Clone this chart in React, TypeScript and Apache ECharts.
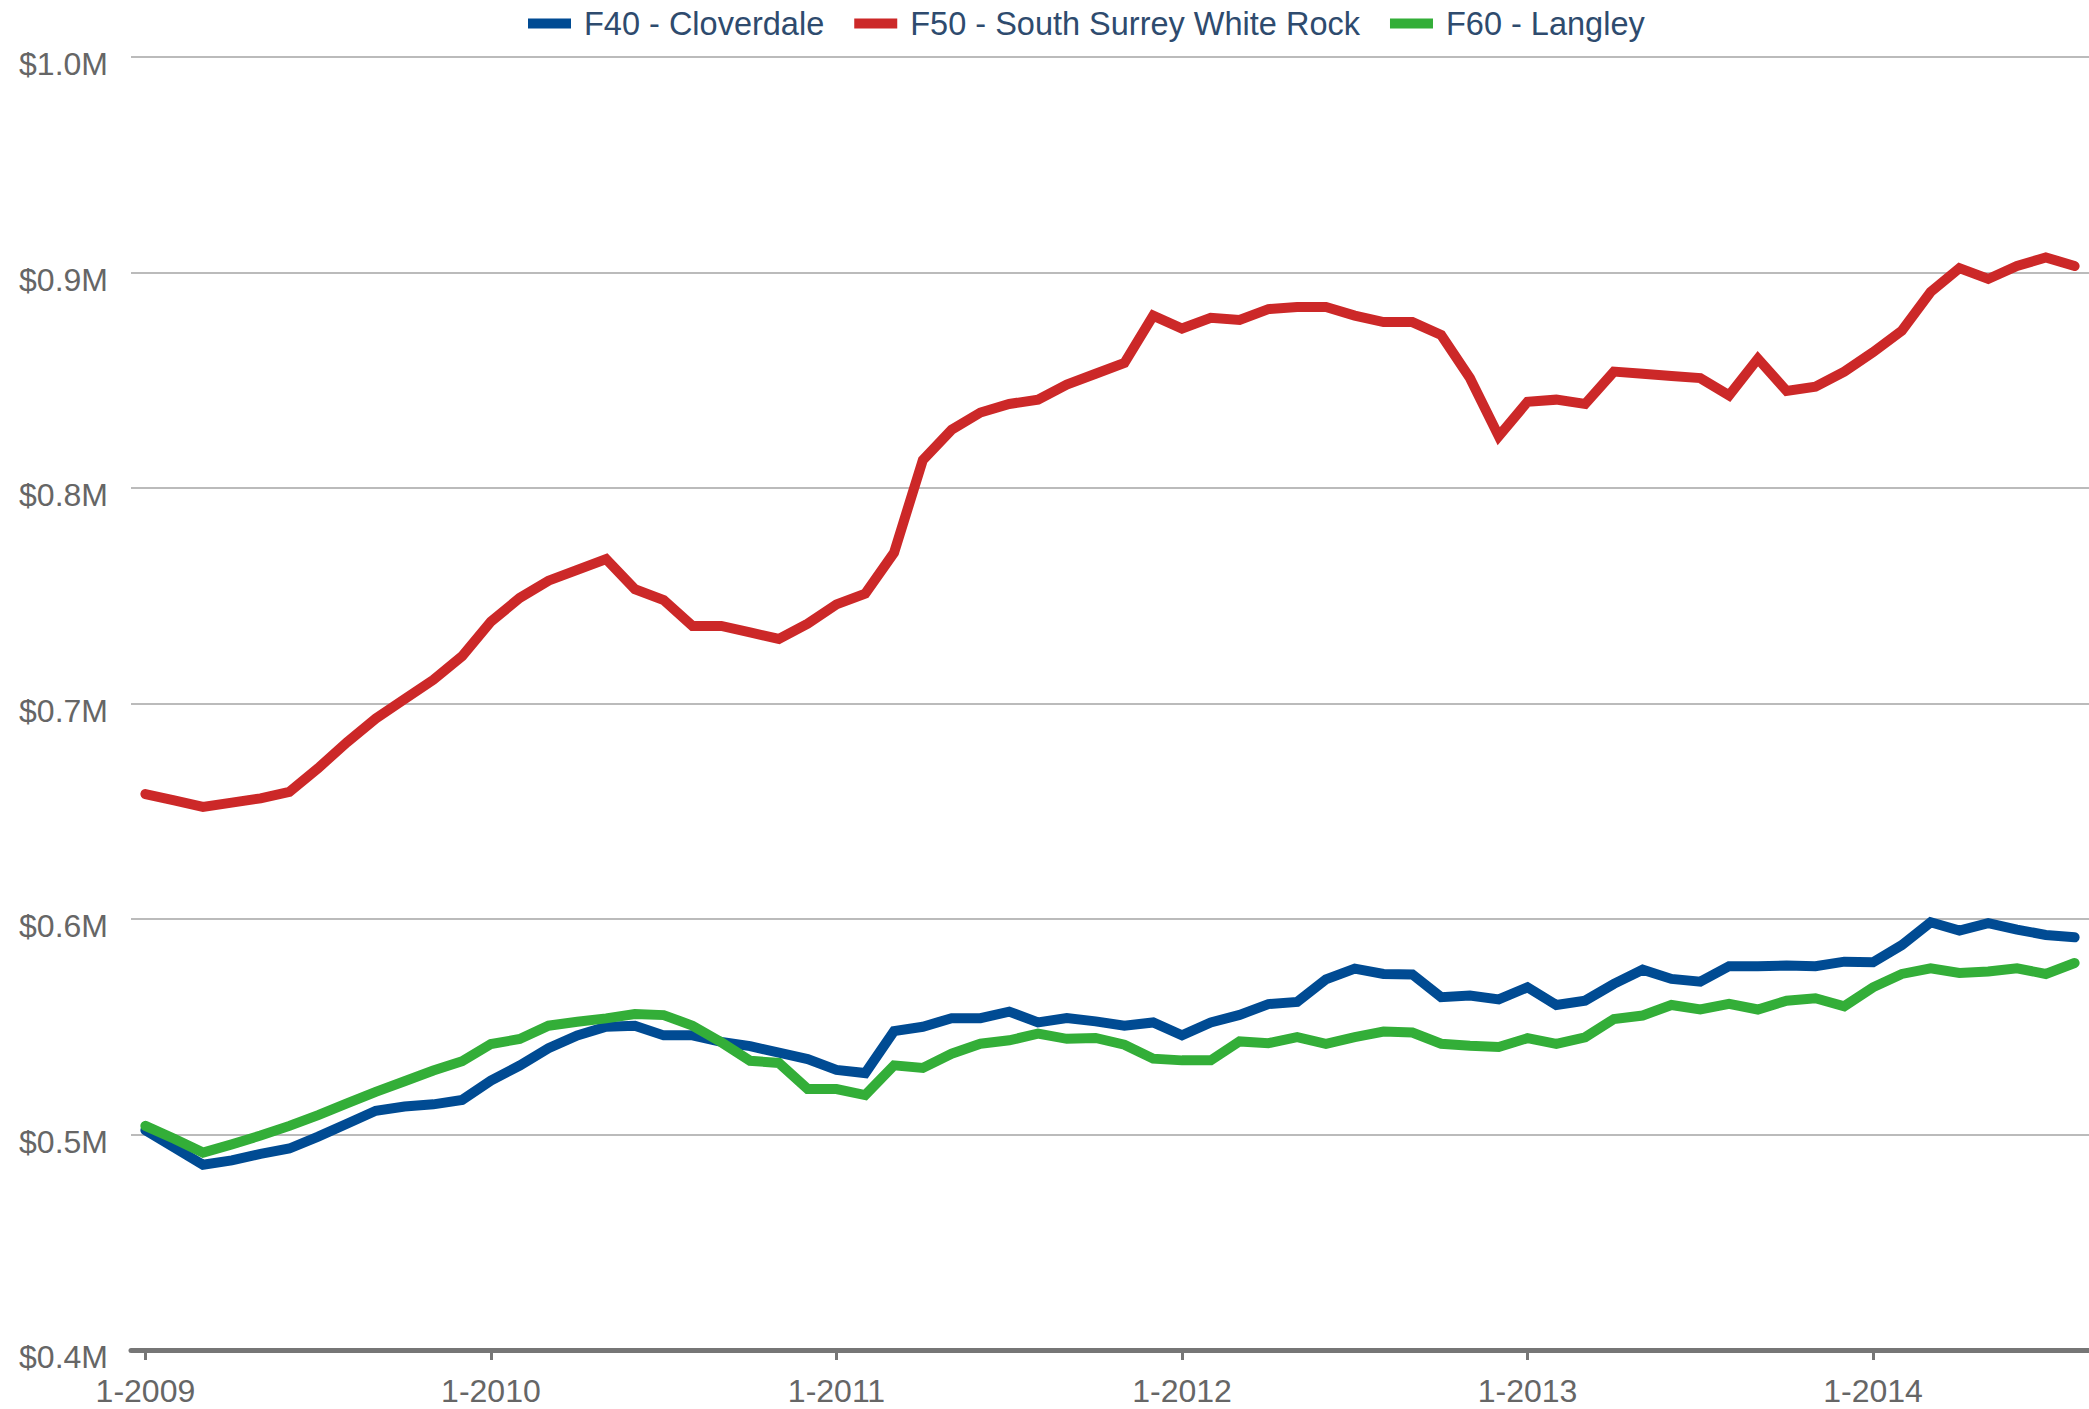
import React, { useEffect, useRef } from "react";
import * as echarts from "echarts";

const startYear = 2009;
const monthCount = 68;
const months: string[] = [];
for (let i = 0; i < monthCount; i++) {
  const m = (i % 12) + 1;
  const y = startYear + Math.floor(i / 12);
  months.push(`${m}-${y}`);
}

const seriesNames = ["F40 - Cloverdale", "F50 - South Surrey White Rock", "F60 - Langley"];

// values in $ millions
const cloverdale = [
  0.502, 0.494, 0.486, 0.488, 0.491, 0.4935, 0.499, 0.505, 0.511, 0.513, 0.514, 0.516,
  0.525, 0.532, 0.540, 0.546, 0.550, 0.5505, 0.546, 0.546, 0.543, 0.541, 0.538, 0.535,
  0.530, 0.5285, 0.548, 0.550, 0.554, 0.554, 0.557, 0.552, 0.554, 0.5525, 0.5505, 0.552,
  0.546, 0.552, 0.5555, 0.5605, 0.5615, 0.572, 0.577, 0.5745, 0.5743, 0.5637, 0.5645, 0.5627,
  0.5683, 0.5601, 0.5621, 0.5699, 0.5765, 0.5722, 0.5709, 0.5781, 0.5781, 0.5784, 0.5781, 0.5802,
  0.5799, 0.5879, 0.5985, 0.5946, 0.5981, 0.5951, 0.5926, 0.5915,
];

const southSurrey = [
  0.658, 0.655, 0.652, 0.654, 0.656, 0.659, 0.670, 0.682, 0.693, 0.702, 0.711, 0.722,
  0.738, 0.749, 0.757, 0.762, 0.767, 0.753, 0.748, 0.736, 0.736, 0.733, 0.730, 0.737,
  0.746, 0.751, 0.770, 0.813, 0.827, 0.835, 0.839, 0.841, 0.848, 0.853, 0.858, 0.880,
  0.874, 0.879, 0.878, 0.883, 0.884, 0.884, 0.880, 0.877, 0.877, 0.871, 0.851, 0.824,
  0.840, 0.841, 0.839, 0.854, 0.853, 0.852, 0.851, 0.843, 0.860, 0.845, 0.847, 0.854,
  0.863, 0.873, 0.891, 0.902, 0.897, 0.903, 0.907, 0.903,
];

const langley = [
  0.504, 0.498, 0.4916, 0.4954, 0.4995, 0.504, 0.509, 0.5144, 0.5198, 0.5247, 0.5297, 0.534,
  0.542, 0.5443, 0.5505, 0.5523, 0.5539, 0.5559, 0.5554, 0.5505, 0.5428, 0.5342, 0.5332, 0.5211,
  0.5211, 0.5183, 0.5321, 0.5309, 0.5375, 0.5421, 0.5437, 0.5468, 0.5444, 0.5448, 0.5417, 0.5352,
  0.5344, 0.5344, 0.5432, 0.5424, 0.5452, 0.5421, 0.5452, 0.5478, 0.5473, 0.5421, 0.5412, 0.5406,
  0.5447, 0.542, 0.5451, 0.5536, 0.5552, 0.5601, 0.558, 0.5606, 0.558, 0.5621, 0.5632, 0.5595,
  0.5683, 0.5745, 0.5771, 0.575, 0.5756, 0.5771, 0.5745, 0.5796,
];

const yMin = 0.4;
const yMax = 1.0;
const yStep = 0.1;

const colors = ["#004B93", "#CC2828", "#33AE38"];
const FONT = "'Liberation Sans', Arial, Helvetica, sans-serif";

export default function App() {
  const ref = useRef<HTMLDivElement>(null);
  useEffect(() => {
    if (!ref.current) return;
    const chart = echarts.init(ref.current, null, { renderer: "svg" });
    const mk = (name: string, data: number[], color: string) => ({
      name,
      type: "line",
      data,
      symbol: "none",
      showSymbol: false,
      color,
      lineStyle: { width: 10, color, cap: "round", join: "miter" },
    });
    chart.setOption({
      animation: false,
      backgroundColor: "#ffffff",
      legend: {
        data: seriesNames,
        left: 528,
        top: 7,
        padding: 0,
        icon: "rect",
        itemWidth: 43,
        itemHeight: 10,
        itemGap: 30,
        textStyle: {
          fontFamily: FONT,
          fontSize: 32.5,
          color: "#2E4B6E",
          padding: [0, 0, 0, 8],
        },
      },
      grid: { left: 131, right: 0, top: 57, bottom: 59, containLabel: false },
      xAxis: {
        type: "category",
        data: months,
        boundaryGap: true,
        axisLine: { show: true, lineStyle: { color: "#767676", width: 5 } },
        axisTick: {
          show: true,
          interval: 11,
          alignWithLabel: true,
          length: 10,
          lineStyle: { color: "#767676", width: 3 },
        },
        axisLabel: {
          interval: 11,
          margin: 31,
          fontFamily: FONT,
          fontSize: 32,
          lineHeight: 20,
          color: "#666666",
        },
        splitLine: { show: false },
      },
      yAxis: {
        type: "value",
        min: yMin,
        max: yMax,
        interval: yStep,
        axisLine: { show: false },
        axisTick: { show: false },
        axisLabel: {
          margin: 23,
          fontFamily: FONT,
          fontSize: 32,
          color: "#666666",
          verticalAlign: "top",
          lineHeight: 14,
          formatter: (v: number) => "$" + v.toFixed(1) + "M",
        },
        splitLine: { show: true, lineStyle: { color: "#BBBBBB", width: 2 } },
      },
      series: [
        mk(seriesNames[0], cloverdale, colors[0]),
        mk(seriesNames[1], southSurrey, colors[1]),
        mk(seriesNames[2], langley, colors[2]),
      ],
    });
    return () => chart.dispose();
  }, []);
  return (
    <div
      ref={ref}
      style={{ position: "absolute", left: 0, top: 0, width: 2089, height: 1409 }}
    />
  );
}
